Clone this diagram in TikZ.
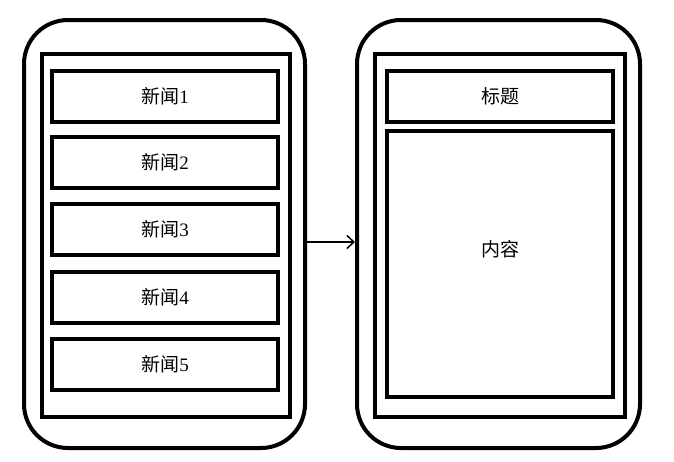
\documentclass[tikz,border=0pt]{standalone}
\usepackage{fontspec}
\setmainfont{Liberation Serif}
\newfontfamily\cjk{Noto Sans CJK SC}
\usetikzlibrary{arrows.meta}
\begin{document}
\begin{tikzpicture}[x=1pt,y=-1pt,
  phone/.style={draw=black,line width=4pt,rounded corners=44pt,minimum width=281pt,minimum height=428pt,inner sep=0pt},
  frame/.style={draw=black,line width=4pt,minimum width=248pt,minimum height=363pt,inner sep=0pt},
  itembox/.style={draw=black,line width=4pt,minimum width=226pt,minimum height=51pt,inner sep=0pt,font=\fontsize{19}{21}\selectfont},
  link/.style={draw=black,line width=1.2pt,-{Straight Barb[length=7pt,width=13pt,line width=1.5pt]}}
]
\useasboundingbox (0,0) rectangle (674,461);
\fill[white] (0,0) rectangle (674,461);
% left phone
\node[phone] (phoneL) at (164.5,234) {};
\node[frame] (frameL) at (166,235.5) {};
\node[itembox] (n1) at (165,96) {{\cjk 新闻}1};
\node[itembox] (n2) at (165,162) {{\cjk 新闻}2};
\node[itembox] (n3) at (165,229) {{\cjk 新闻}3};
\node[itembox] (n4) at (165,297) {{\cjk 新闻}4};
\node[itembox] (n5) at (165,364) {{\cjk 新闻}5};
% right phone
\node[phone,minimum width=283pt] (phoneR) at (498.5,234) {};
\node[frame,minimum width=250pt] (frameR) at (500,235) {};
\node[itembox] (title) at (500,96) {\cjk 标题};
\node[itembox,minimum height=266pt] (content) at (500,264) {};
\node[font=\fontsize{19}{21}\selectfont] (contentlabel) at (500,249) {\cjk 内容};
% connector
\draw[link] ([yshift=-8pt]phoneL.east) -- ([yshift=-8pt]phoneR.west);
\end{tikzpicture}
\end{document}
